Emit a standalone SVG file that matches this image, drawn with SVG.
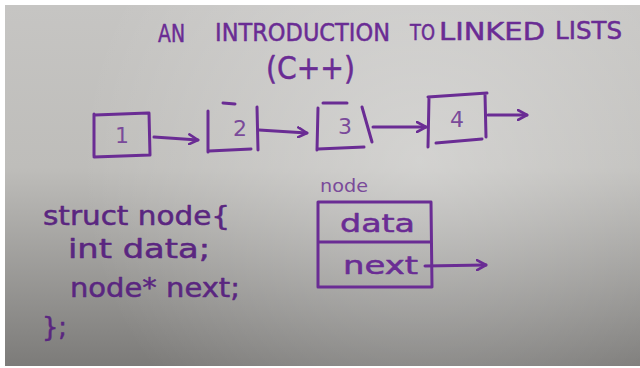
<svg xmlns="http://www.w3.org/2000/svg" width="640" height="368" viewBox="0 0 640 368">
  <defs>
    <linearGradient id="bg" x1="0" y1="0" x2="0" y2="1">
      <stop offset="0" stop-color="#c6c5c3"/>
      <stop offset="0.45" stop-color="#bebdba"/>
      <stop offset="1" stop-color="#7c7b79"/>
    </linearGradient>
    <radialGradient id="glow" cx="420" cy="160" r="340" gradientUnits="userSpaceOnUse">
      <stop offset="0" stop-color="#ffffff" stop-opacity="0.32"/>
      <stop offset="1" stop-color="#ffffff" stop-opacity="0"/>
    </radialGradient>
    <marker id="chev" viewBox="0 0 12 12" refX="10" refY="6" markerWidth="12" markerHeight="12" markerUnits="userSpaceOnUse" orient="auto">
      <path d="M1,1 L10,6 L1,11" fill="none" stroke="#6a2c94" stroke-width="2.6" stroke-linecap="round" stroke-linejoin="round"/>
    </marker>
    <style>
      .ink { fill: none; stroke: #6a2c94; stroke-width: 3; stroke-linecap: round; stroke-linejoin: round; }
      .txt { font-family: "DejaVu Sans", "Liberation Sans", sans-serif; fill: #6a2c94; stroke: #6a2c94; stroke-width: 0.5; stroke-linejoin: round; }
      .thin { stroke-width: 0; fill: #7a4a9a; }
      .code { fill: #5a2680; stroke: #5a2680; }
      .conn { fill: none; stroke: #6a2c94; stroke-width: 3; stroke-linecap: round; marker-end: url(#chev); }
    </style>
  </defs>

  <rect x="0" y="0" width="640" height="368" fill="#ffffff"/>
  <rect x="5" y="5" width="635" height="361" fill="url(#bg)"/>
  <rect x="5" y="5" width="635" height="361" fill="url(#glow)"/>

  <g id="title">
    <text class="txt" x="158" y="42" font-size="24" textLength="27" lengthAdjust="spacingAndGlyphs">AN</text>
    <text class="txt" x="215" y="41" font-size="24" textLength="175" lengthAdjust="spacingAndGlyphs">INTRODUCTION</text>
    <text class="txt" x="410" y="40" font-size="22" textLength="25" lengthAdjust="spacingAndGlyphs">TO</text>
    <text class="txt" x="439" y="40" font-size="24" textLength="106" lengthAdjust="spacingAndGlyphs">LINKED</text>
    <text class="txt" x="555" y="39" font-size="24" textLength="67" lengthAdjust="spacingAndGlyphs">LISTS</text>
    <text class="txt" x="266" y="79" font-size="32" textLength="89" lengthAdjust="spacingAndGlyphs">(C++)</text>
  </g>

  <g id="node1">
    <path class="ink" d="M94,114 L94,156 M94,157 L150,155 M150,155 L149,113 M95,115 L148,113"/>
    <text class="txt thin" x="122" y="143" font-size="22" text-anchor="middle">1</text>
  </g>
  <g id="node2">
    <path class="ink" d="M208,111 L208,152 M209,151 L251,149 M223,103 L235,104 M257,107 L258,150"/>
    <text class="txt thin" x="240" y="136" font-size="22" text-anchor="middle">2</text>
  </g>
  <g id="node3">
    <path class="ink" d="M318,108 L317,150 M318,149 L364,147 M323,103 L347,103 M362,107 L372,142"/>
    <text class="txt thin" x="345" y="134" font-size="22" text-anchor="middle">3</text>
  </g>
  <g id="node4">
    <path class="ink" d="M428,97 L487,93 M429,97 L428,147 M485,94 L486,137 M436,143 L482,139"/>
    <text class="txt thin" x="457" y="127" font-size="22" text-anchor="middle">4</text>
  </g>

  <g id="connectors">
    <path class="conn" d="M154,137 L198,140"/>
    <path class="conn" d="M259,130 L307,133"/>
    <path class="conn" d="M373,127 L426,127"/>
    <path class="conn" d="M488,115 L527,115"/>
    <path class="conn" d="M425,266 L486,265"/>
  </g>

  <g id="node-struct">
    <text class="txt thin" x="320" y="192" font-size="17" textLength="48" lengthAdjust="spacingAndGlyphs">node</text>
    <path class="ink" d="M318,202 L431,202 L432,287 L318,287 Z M319,242 L431,242"/>
    <text class="txt" x="340" y="232" font-size="24" textLength="75" lengthAdjust="spacingAndGlyphs">data</text>
    <text class="txt" x="343" y="274" font-size="24" textLength="75" lengthAdjust="spacingAndGlyphs">next</text>
  </g>

  <g id="code">
    <text class="txt code" x="43" y="225" font-size="26" textLength="187" lengthAdjust="spacingAndGlyphs">struct node{</text>
    <text class="txt code" x="68" y="258" font-size="26" textLength="142" lengthAdjust="spacingAndGlyphs">int data;</text>
    <text class="txt code" x="70" y="297" font-size="26" textLength="170" lengthAdjust="spacingAndGlyphs">node* next;</text>
    <text class="txt code" x="42" y="336" font-size="26" textLength="25" lengthAdjust="spacingAndGlyphs">};</text>
  </g>
</svg>
